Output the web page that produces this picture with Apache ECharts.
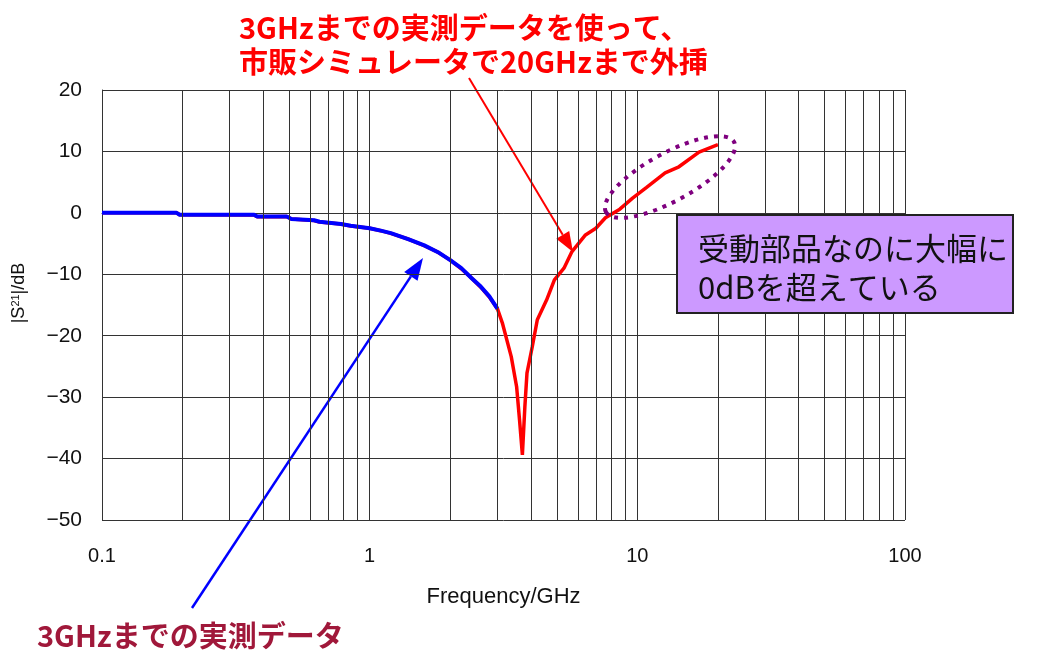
<!DOCTYPE html>
<html>
<head>
<meta charset="utf-8">
<script src="https://cdn.jsdelivr.net/npm/echarts@6/dist/echarts.min.js"></script>
<style>
  html, body { margin: 0; padding: 0; background: #fff; }
  #main { width: 1045px; height: 651px; }
</style>
</head>
<body>
<div id="main"></div>
<script>
  // measured data up to 3 GHz (blue)
  var freqMeas = [0.1, 0.19, 0.195, 0.37, 0.38, 0.49, 0.51, 0.62, 0.65, 0.78, 0.85, 1.0, 1.1, 1.2, 1.4, 1.6, 1.8, 2.0, 2.2, 2.4, 2.6, 2.8, 3.0];
  var s21Meas = [0, 0, -0.3, -0.3, -0.6, -0.6, -1.0, -1.2, -1.45, -1.8, -2.1, -2.5, -2.9, -3.3, -4.3, -5.3, -6.4, -7.7, -9.0, -10.6, -12.0, -13.6, -15.6];

  // simulator extrapolation up to 20 GHz (red)
  var freqSim = [0.1, 0.19, 0.195, 0.37, 0.38, 0.49, 0.51, 0.62, 0.65, 0.78, 0.85, 1.0, 1.1, 1.2, 1.4, 1.6, 1.8, 2.0, 2.2, 2.4, 2.6, 2.8, 3.0,
    3.13, 3.38, 3.54, 3.63, 3.72, 3.8, 3.87, 4.05, 4.23, 4.58, 4.9, 5.32, 5.7, 6.4, 7.0, 7.6, 8.6, 9.6, 10.8, 12.7, 14.3, 17.0, 20.0];
  var s21Sim = [0, 0, -0.3, -0.35, -0.65, -0.6, -1.0, -1.25, -1.5, -1.8, -2.15, -2.5, -2.9, -3.35, -4.3, -5.35, -6.4, -7.7, -9.1, -10.6, -12.1, -13.7, -15.6,
    -17.9, -23.4, -28.3, -33.7, -39.4, -31.6, -26.1, -21.8, -17.4, -14.2, -10.9, -9.0, -6.3, -3.6, -2.5, -0.8, 0.6, 2.4, 4.1, 6.5, 7.5, 9.9, 11.1];

  // minor vertical grid lines of the log axis
  var minorX = [];
  [0.1, 1, 10].forEach(function (d) {
    for (var k = 2; k <= 9; k++) minorX.push(+(d * k).toFixed(2));
  });

  var fontJP = "'Noto Sans CJK JP', sans-serif";
  var fontEN = "'Liberation Sans', Arial, sans-serif";

  function arrow(x1, y1, x2, y2, color, lw, hl, hw) {
    var dx = x2 - x1, dy = y2 - y1, len = Math.sqrt(dx * dx + dy * dy);
    var ux = dx / len, uy = dy / len;
    var bx = x2 - ux * hl, by = y2 - uy * hl;
    return [{
      type: 'line',
      shape: { x1: x1, y1: y1, x2: bx, y2: by },
      style: { stroke: color, lineWidth: lw }
    }, {
      type: 'polygon',
      shape: { points: [[x2, y2], [bx - uy * hw / 2, by + ux * hw / 2], [bx + uy * hw / 2, by - ux * hw / 2]] },
      style: { fill: color }
    }];
  }

  var chart = echarts.init(document.getElementById('main'));

  var graphics = [].concat(
    arrow(469, 78, 573, 252, '#FF0000', 2, 20, 15),
    arrow(192, 608, 423, 258, '#0000FF', 2.5, 22, 16),
    [
      {
        type: 'ellipse',
        shape: { cx: 670, cy: 177, rx: 73, ry: 24 },
        rotation: 0.5,
        originX: 670, originY: 177,
        style: { fill: 'none', stroke: '#7F007F', lineWidth: 4, lineDash: [4, 6] },
        z: 10
      },
      {
        type: 'rect',
        shape: { x: 677, y: 215, width: 336, height: 98 },
        style: { fill: '#CC99FF', stroke: '#222', lineWidth: 2 },
        z: 10
      },
      {
        type: 'text', x: 698, y: 248, z: 11,
        style: { text: '受動部品なのに大幅に', fill: '#111', font: '31px ' + fontJP, textVerticalAlign: 'middle' }
      },
      {
        type: 'text', x: 698, y: 287, z: 11,
        style: { text: '0dBを超えている', fill: '#111', font: '31px ' + fontJP, textVerticalAlign: 'middle' }
      },
      {
        type: 'text', x: 239, y: 28, z: 11,
        style: { text: '3GHzまでの実測データを使って、', fill: '#FF0000', font: 'bold 29px ' + fontJP, textVerticalAlign: 'middle' }
      },
      {
        type: 'text', x: 239, y: 62, z: 11,
        style: { text: '市販シミュレータで20GHzまで外挿', fill: '#FF0000', font: 'bold 29px ' + fontJP, textVerticalAlign: 'middle' }
      },
      {
        type: 'text', x: 37, y: 636, z: 11,
        style: { text: '3GHzまでの実測データ', fill: '#A0183A', font: 'bold 29px ' + fontJP, textVerticalAlign: 'middle' }
      },
      {
        type: 'text', x: 19, y: 293, rotation: Math.PI / 2, z: 11,
        style: {
          text: '{a||S}{b|21}{a||/dB}',
          textAlign: 'center', textVerticalAlign: 'middle',
          rich: {
            a: { fontSize: 18, fontFamily: fontEN, fill: '#111' },
            b: { fontSize: 11, fontFamily: fontEN, fill: '#111', verticalAlign: 'top' }
          }
        }
      }
    ]
  );

  var option = {
    animation: false,
    backgroundColor: '#fff',
    grid: { left: 102, right: 140, top: 90, bottom: 131, containLabel: false },
    xAxis: {
      type: 'log',
      logBase: 10,
      min: 0.1,
      max: 100,
      name: 'Frequency/GHz',
      nameLocation: 'middle',
      nameGap: 66,
      nameTextStyle: { fontSize: 22, fontFamily: fontEN, color: '#111' },
      axisLine: { show: true, lineStyle: { color: '#333', width: 1 } },
      axisTick: { show: false },
      axisLabel: {
        fontSize: 20, fontFamily: fontEN, color: '#111', margin: 26,
        formatter: function (v) { return String(+v.toPrecision(3)); }
      },
      splitLine: { show: true, lineStyle: { color: '#333', width: 1 } },
      minorTick: { show: false },
      minorSplitLine: { show: false }
    },
    yAxis: {
      type: 'value',
      min: -50,
      max: 20,
      interval: 10,
      axisLine: { show: true, lineStyle: { color: '#333', width: 1 } },
      axisTick: { show: false },
      axisLabel: {
        fontSize: 21, fontFamily: fontEN, color: '#111', margin: 20,
        formatter: function (v) { return String(v).replace('-', '\u2212'); }
      },
      splitLine: { show: true, lineStyle: { color: '#333', width: 1 } }
    },
    series: [
      {
        type: 'line',
        name: 'grid',
        data: [],
        silent: true,
        z: 1,
        markLine: {
          silent: true,
          symbol: 'none',
          animation: false,
          label: { show: false },
          lineStyle: { color: '#333', width: 1, type: 'solid' },
          emphasis: { disabled: true },
          data: minorX.map(function (v) { return { xAxis: v }; })
        }
      },
      {
        type: 'line',
        name: 'sim',
        data: freqSim.map(function (f, i) { return [f, s21Sim[i]]; }),
        showSymbol: false,
        lineStyle: { color: '#FF0000', width: 3.5 },
        z: 3
      },
      {
        type: 'line',
        name: 'meas',
        data: freqMeas.map(function (f, i) { return [f, s21Meas[i]]; }),
        showSymbol: false,
        lineStyle: { color: '#0000FF', width: 4 },
        z: 4
      }
    ],
    graphic: graphics
  };

  chart.setOption(option);
</script>
</body>
</html>
